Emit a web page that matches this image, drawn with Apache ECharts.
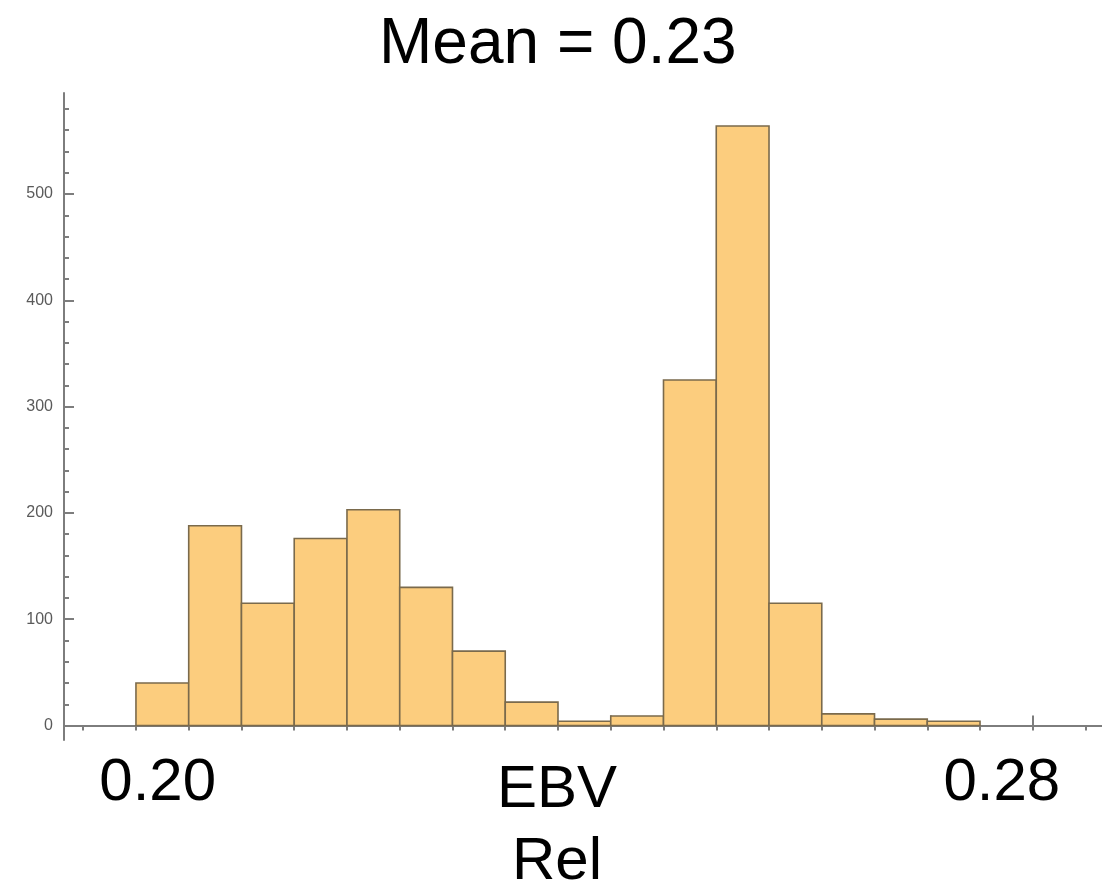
<!DOCTYPE html>
<html>
	<head>
		<meta charset="UTF-8">
		<title></title>
		<script src="https://cdn.jsdelivr.net/npm/echarts@6/dist/echarts.min.js" type="text/javascript" charset="utf-8"></script>
	</head>
	<body style="margin:0;background:#fff;">
		<div id="chart" style="width:1102px;height:885px;"></div>
		<script type="text/javascript">
			// histogram bins (lower edge) and counts
			var binEdges = [0.195, 0.200, 0.205, 0.210, 0.215, 0.220, 0.225, 0.230, 0.235, 0.240, 0.245, 0.250, 0.255, 0.260, 0.265, 0.270, 0.275];
			var counts = [40, 188, 115, 176, 203, 130, 70, 22, 4, 9, 325, 564, 115, 11, 6, 4];
			var xMajorTicks = [0.20, 0.22, 0.24, 0.26, 0.28];
			var xMinorTicks = [0.190, 0.195, 0.200, 0.205, 0.210, 0.215, 0.220, 0.225, 0.230, 0.235, 0.240, 0.245, 0.250, 0.255, 0.260, 0.265, 0.270, 0.275, 0.280, 0.285];
			var xLabels = [0.20, 0.28];
			var yMajorTicks = [0, 100, 200, 300, 400, 500];
			var yMinorTicks = [20, 40, 60, 80, 120, 140, 160, 180, 220, 240, 260, 280, 320, 340, 360, 380, 420, 440, 460, 480, 520, 540, 560, 580];

			var bins = [];
			for (var i = 0; i < counts.length; i++) {
				bins.push([binEdges[i], binEdges[i + 1], counts[i]]);
			}

			var font = 'Liberation Sans, Arial, sans-serif';
			var axisGray = '#7d7d7d';
			var chart = echarts.init(document.getElementById('chart'));

			var option = {
				animation: false,
				title: {
					text: 'Mean = 0.23',
					left: 379,
					top: 13,
					padding: 0,
					textStyle: {fontFamily: font, fontSize: 64, fontWeight: 'normal', color: '#000'}
				},
				grid: {left: 64, right: 0, top: 93, bottom: 145, outerBoundsMode: 'none', containLabel: false},
				xAxis: [{
					type: 'value',
					min: 0.18818,
					max: 0.28656,
					splitLine: {show: false},
					axisLine: {show: true, onZero: true, lineStyle: {color: axisGray, width: 2}},
					axisTick: {show: true, inside: true, length: 10, customValues: xMajorTicks, lineStyle: {color: axisGray, width: 2}},
					axisLabel: {
						customValues: xLabels,
						margin: 13,
						padding: [0, 62, 0, 0],
						fontFamily: font, fontSize: 60, color: '#000',
						formatter: function (v) { return v.toFixed(2); }
					},
					name: 'EBV\nRel',
					nameLocation: 'middle',
					nameGap: 14,
					nameMoveOverlap: false,
					nameTextStyle: {fontFamily: font, fontSize: 60, color: '#000', lineHeight: 72, padding: [0, 52, 0, 0]}
				}, {
					type: 'value',
					min: 0.18818,
					max: 0.28656,
					splitLine: {show: false},
					axisLine: {show: true, onZero: true, lineStyle: {opacity: 0}},
					axisTick: {show: true, inside: true, length: 5, customValues: xMinorTicks, lineStyle: {color: axisGray, width: 2}},
					axisLabel: {show: false}
				}],
				yAxis: [{
					type: 'value',
					position: 'left',
					min: -13.6,
					max: 595,
					splitLine: {show: false},
					axisLine: {show: true, lineStyle: {color: axisGray, width: 2}},
					axisTick: {show: true, inside: true, length: 10, customValues: yMajorTicks, lineStyle: {color: axisGray, width: 2}},
					axisLabel: {customValues: yMajorTicks, margin: 11, fontFamily: font, fontSize: 16, color: '#5a5a5a'}
				}, {
					type: 'value',
					position: 'left',
					min: -13.6,
					max: 595,
					splitLine: {show: false},
					axisLine: {show: false},
					axisTick: {show: true, inside: true, length: 5, customValues: yMinorTicks, lineStyle: {color: axisGray, width: 2}},
					axisLabel: {show: false}
				}],
				series: [{
					type: 'custom',
					xAxisIndex: 0,
					yAxisIndex: 0,
					z: 5,
					data: bins,
					renderItem: function (params, api) {
						var p0 = api.coord([api.value(0), 0]);
						var p1 = api.coord([api.value(1), api.value(2)]);
						return {
							type: 'rect',
							shape: {x: p0[0], y: p1[1], width: p1[0] - p0[0], height: p0[1] - p1[1]},
							style: {fill: '#fccd7e', stroke: '#7a6a4c', lineWidth: 1.6}
						};
					}
				}]
			};
			chart.setOption(option);
		</script>
	</body>
</html>
